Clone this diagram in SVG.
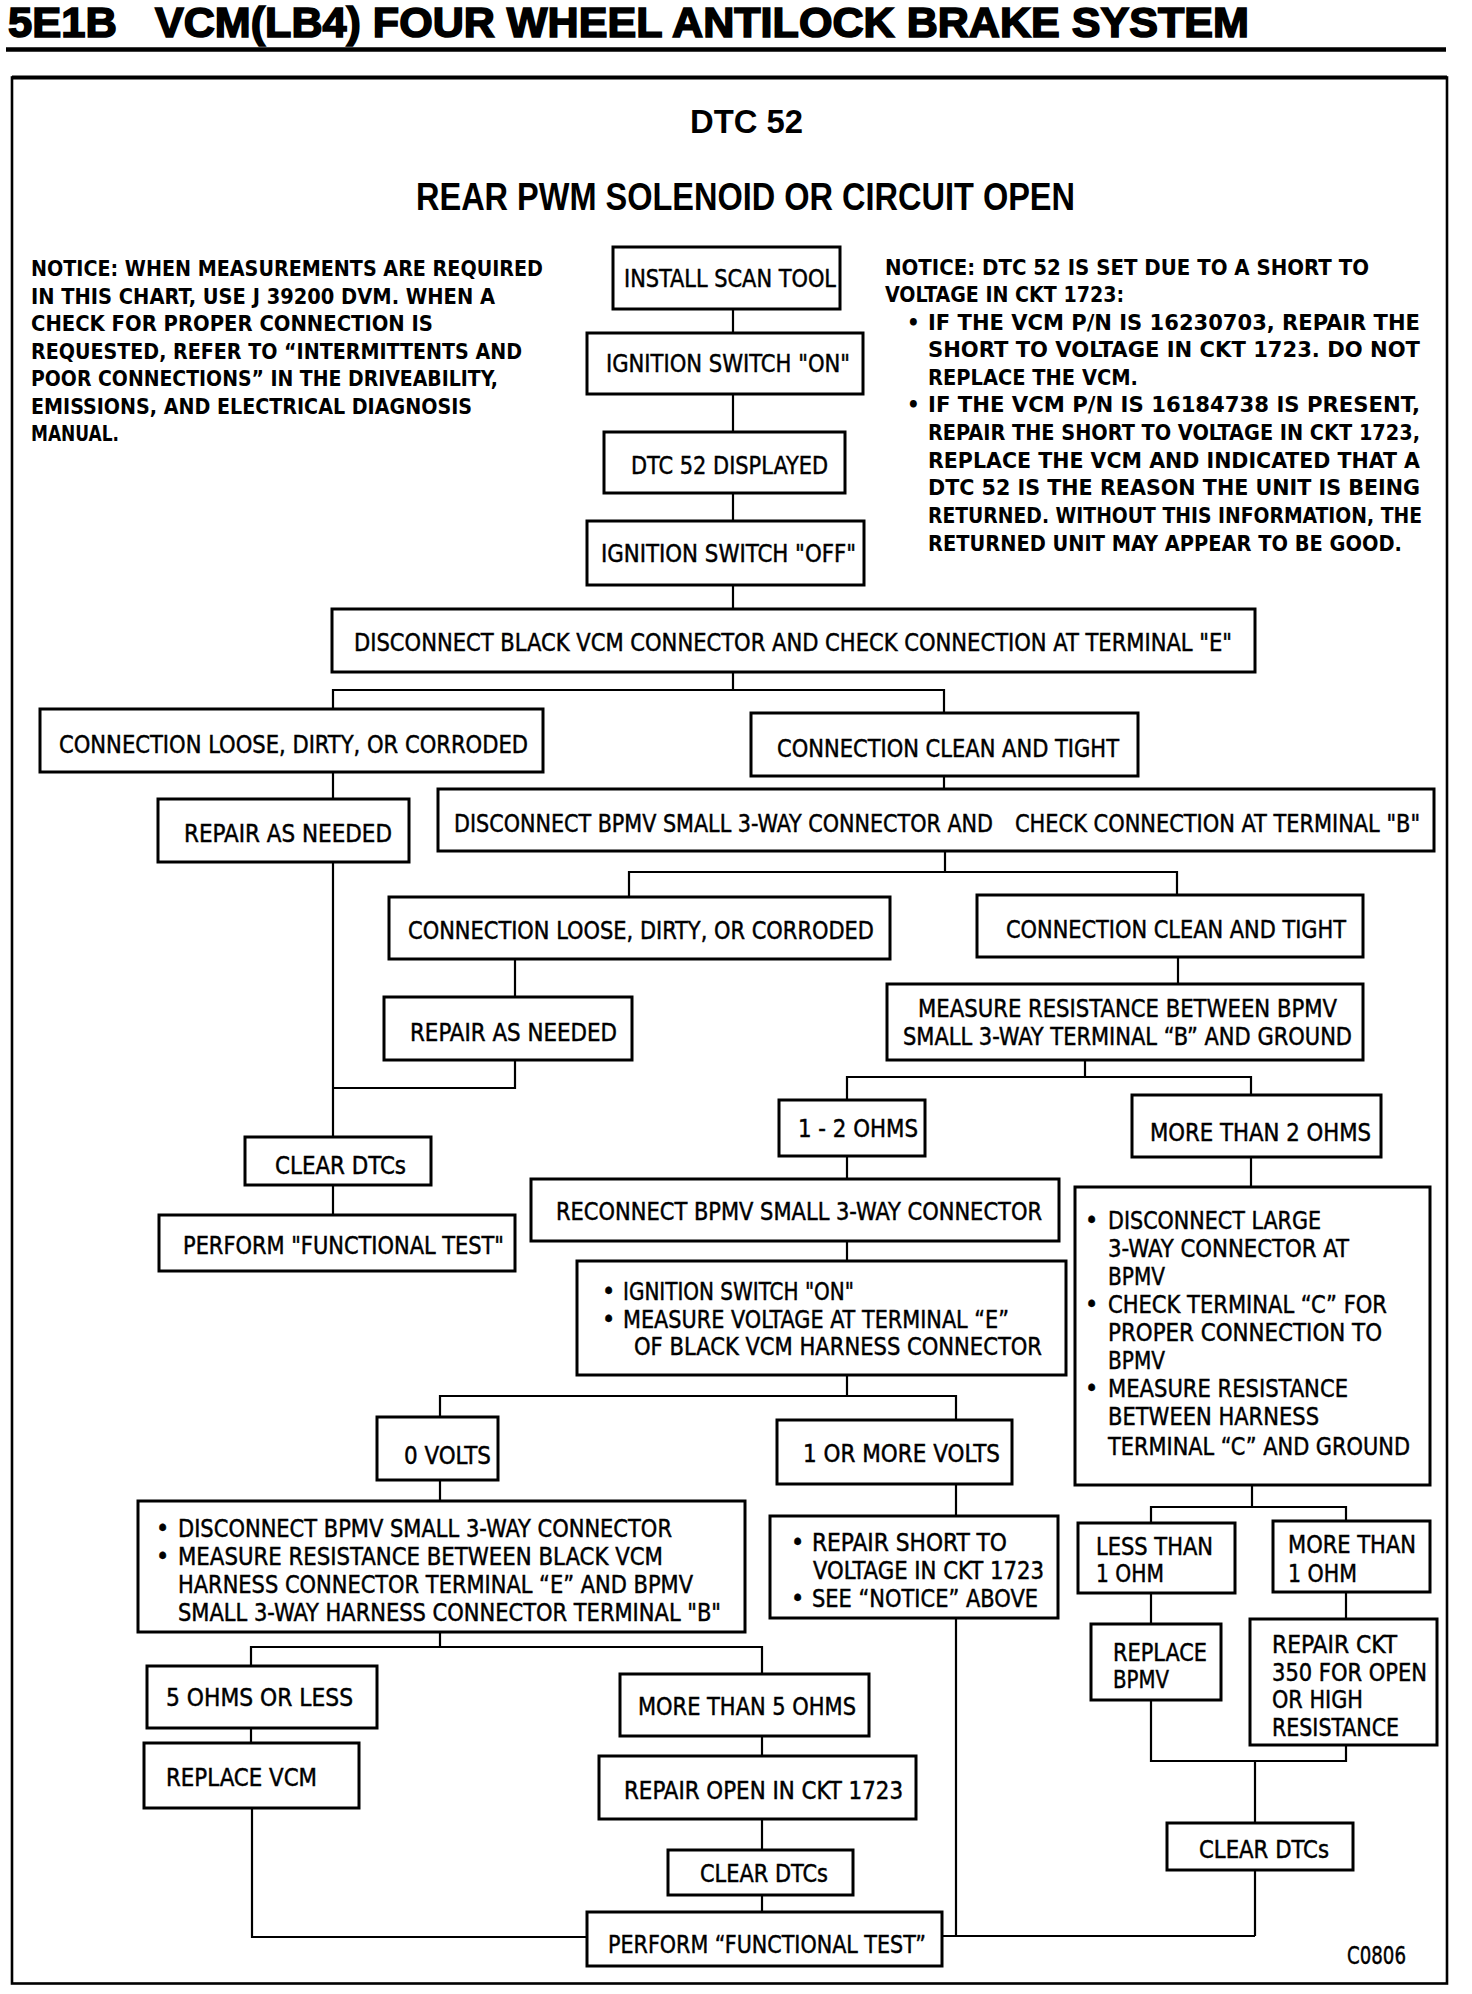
<svg xmlns="http://www.w3.org/2000/svg" width="1472" height="1994" viewBox="0 0 1472 1994">
<style>
.bx{fill:#fff;stroke:#000;stroke-width:3}
.cn{fill:none;stroke:#000;stroke-width:2.2}
.t{font-family:"Liberation Sans Narrow","DejaVu Sans Condensed","Liberation Sans",sans-serif;font-size:25px;fill:#000;stroke:#000;stroke-width:0.45}
.n{font-family:"Liberation Sans Narrow","DejaVu Sans Condensed","Liberation Sans",sans-serif;font-size:22px;font-weight:bold;fill:#000}
.h{font-family:"Liberation Sans","DejaVu Sans",sans-serif;font-weight:bold;fill:#000}
</style>
<rect x="0" y="0" width="1472" height="1994" fill="#fff"/>
<g id="title">
<text class="h" x="8" y="37" font-size="42" textLength="109" lengthAdjust="spacingAndGlyphs" stroke="#000" stroke-width="1.6">5E1B</text>
<text class="h" x="155" y="37" font-size="42" textLength="1094" lengthAdjust="spacingAndGlyphs" stroke="#000" stroke-width="1.6">VCM(LB4) FOUR WHEEL ANTILOCK BRAKE SYSTEM</text>
<line x1="6" y1="49.5" x2="1446" y2="49.5" stroke="#000" stroke-width="4.5"/>
<rect x="12" y="77.5" width="1435" height="1906" fill="none" stroke="#000" stroke-width="2.6"/>
<line x1="12" y1="77.5" x2="1447" y2="77.5" stroke="#000" stroke-width="4"/>
<text class="h" x="690" y="133" font-size="34" textLength="113" lengthAdjust="spacingAndGlyphs">DTC 52</text>
<text class="h" x="416" y="210" font-size="38" textLength="659" lengthAdjust="spacingAndGlyphs">REAR PWM SOLENOID OR CIRCUIT OPEN</text>
</g>
<g id="notice-left">
<text class="n" x="31" y="276" font-size="23" textLength="512" lengthAdjust="spacingAndGlyphs">NOTICE: WHEN MEASUREMENTS ARE REQUIRED</text>
<text class="n" x="31" y="303.5" font-size="23" textLength="464" lengthAdjust="spacingAndGlyphs">IN THIS CHART, USE J 39200 DVM. WHEN A</text>
<text class="n" x="31" y="331" font-size="23" textLength="402" lengthAdjust="spacingAndGlyphs">CHECK FOR PROPER CONNECTION IS</text>
<text class="n" x="31" y="358.5" font-size="23" textLength="491" lengthAdjust="spacingAndGlyphs">REQUESTED, REFER TO “INTERMITTENTS AND</text>
<text class="n" x="31" y="386" font-size="23" textLength="467" lengthAdjust="spacingAndGlyphs">POOR CONNECTIONS” IN THE DRIVEABILITY,</text>
<text class="n" x="31" y="413.5" font-size="23" textLength="441" lengthAdjust="spacingAndGlyphs">EMISSIONS, AND ELECTRICAL DIAGNOSIS</text>
<text class="n" x="31" y="441" font-size="23" textLength="88" lengthAdjust="spacingAndGlyphs">MANUAL.</text>
</g>
<g id="notice-right">
<text class="n" x="885" y="275" textLength="484" lengthAdjust="spacingAndGlyphs">NOTICE: DTC 52 IS SET DUE TO A SHORT TO</text>
<text class="n" x="885" y="302" textLength="239" lengthAdjust="spacingAndGlyphs">VOLTAGE IN CKT 1723:</text>
<text class="n" x="907" y="330">•</text>
<text class="n" x="928" y="330" textLength="492" lengthAdjust="spacingAndGlyphs">IF THE VCM P/N IS 16230703, REPAIR THE</text>
<text class="n" x="928" y="357" textLength="492" lengthAdjust="spacingAndGlyphs">SHORT TO VOLTAGE IN CKT 1723. DO NOT</text>
<text class="n" x="928" y="385" textLength="210" lengthAdjust="spacingAndGlyphs">REPLACE THE VCM.</text>
<text class="n" x="907" y="412">•</text>
<text class="n" x="928" y="412" textLength="492" lengthAdjust="spacingAndGlyphs">IF THE VCM P/N IS 16184738 IS PRESENT,</text>
<text class="n" x="928" y="440" font-size="21" textLength="492" lengthAdjust="spacingAndGlyphs">REPAIR THE SHORT TO VOLTAGE IN CKT 1723,</text>
<text class="n" x="928" y="468" textLength="492" lengthAdjust="spacingAndGlyphs">REPLACE THE VCM AND INDICATED THAT A</text>
<text class="n" x="928" y="495" textLength="492" lengthAdjust="spacingAndGlyphs">DTC 52 IS THE REASON THE UNIT IS BEING</text>
<text class="n" x="928" y="523" font-size="21" textLength="494" lengthAdjust="spacingAndGlyphs">RETURNED. WITHOUT THIS INFORMATION, THE</text>
<text class="n" x="928" y="551" textLength="474" lengthAdjust="spacingAndGlyphs">RETURNED UNIT MAY APPEAR TO BE GOOD.</text>
</g>
<g id="connectors">
<path class="cn" d="M733 309V333M733 394V432M733 493V521M733 585V609M733 672V690M333 709V690H944V713"/>
<path class="cn" d="M333 772V799M333 862V1137M944 776V789M945 851V872M629 897V872H1177V895"/>
<path class="cn" d="M515 959V997M515 1060V1088H333M1178 957V984M1085 1060V1077M847 1100V1077H1251V1095"/>
<path class="cn" d="M333 1185V1215M847 1156V1179M847 1241V1261M847 1375V1396M440 1417V1396H956V1420M1251 1157V1187"/>
<path class="cn" d="M440 1480V1501M956 1484V1516M956 1618V1936M942 1936H1255"/>
<path class="cn" d="M1252 1485V1507M1151 1523V1507H1346V1521M1151 1593V1624M1346 1592V1619M1151 1700V1761H1346V1745M1255 1761V1823M1255 1870V1936"/>
<path class="cn" d="M440 1632V1647M251 1666V1647H762V1674M251 1728V1743M762 1736V1756M762 1819V1850M762 1895V1912M252 1808V1937H587"/>
</g>
<g id="b1"><rect class="bx" x="613" y="247" width="227" height="62"/><text class="t" x="624" y="287" textLength="212" lengthAdjust="spacingAndGlyphs">INSTALL SCAN TOOL</text></g>
<g id="b2"><rect class="bx" x="587" y="333" width="276" height="61"/><text class="t" x="606" y="372" textLength="244" lengthAdjust="spacingAndGlyphs">IGNITION SWITCH "ON"</text></g>
<g id="b3"><rect class="bx" x="604" y="432" width="241" height="61"/><text class="t" x="631" y="474" textLength="197" lengthAdjust="spacingAndGlyphs">DTC 52 DISPLAYED</text></g>
<g id="b4"><rect class="bx" x="587" y="521" width="277" height="64"/><text class="t" x="601" y="562" textLength="255" lengthAdjust="spacingAndGlyphs">IGNITION SWITCH "OFF"</text></g>
<g id="b5"><rect class="bx" x="332" y="609" width="923" height="63"/><text class="t" x="354" y="651" textLength="878" lengthAdjust="spacingAndGlyphs">DISCONNECT BLACK VCM CONNECTOR AND CHECK CONNECTION AT TERMINAL "E"</text></g>
<g id="b6"><rect class="bx" x="40" y="709" width="503" height="63"/><text class="t" x="59" y="753" textLength="469" lengthAdjust="spacingAndGlyphs">CONNECTION LOOSE, DIRTY, OR CORRODED</text></g>
<g id="b7"><rect class="bx" x="751" y="713" width="387" height="63"/><text class="t" x="777" y="757" textLength="342" lengthAdjust="spacingAndGlyphs">CONNECTION CLEAN AND TIGHT</text></g>
<g id="b8"><rect class="bx" x="158" y="799" width="251" height="63"/><text class="t" x="184" y="842" textLength="208" lengthAdjust="spacingAndGlyphs">REPAIR AS NEEDED</text></g>
<g id="b9"><rect class="bx" x="438" y="789" width="996" height="62"/><text class="t" x="454" y="832" font-size="24" textLength="539" lengthAdjust="spacingAndGlyphs">DISCONNECT BPMV SMALL 3-WAY CONNECTOR AND</text><text class="t" x="1015" y="832" font-size="24" textLength="405" lengthAdjust="spacingAndGlyphs">CHECK CONNECTION AT TERMINAL "B"</text></g>
<g id="b10"><rect class="bx" x="389" y="897" width="501" height="62"/><text class="t" x="408" y="939" textLength="466" lengthAdjust="spacingAndGlyphs">CONNECTION LOOSE, DIRTY, OR CORRODED</text></g>
<g id="b11"><rect class="bx" x="977" y="895" width="386" height="62"/><text class="t" x="1006" y="938" textLength="340" lengthAdjust="spacingAndGlyphs">CONNECTION CLEAN AND TIGHT</text></g>
<g id="b12"><rect class="bx" x="384" y="997" width="248" height="63"/><text class="t" x="410" y="1041" textLength="207" lengthAdjust="spacingAndGlyphs">REPAIR AS NEEDED</text></g>
<g id="b13"><rect class="bx" x="887" y="984" width="476" height="76"/><text class="t" x="918" y="1017" textLength="419" lengthAdjust="spacingAndGlyphs">MEASURE RESISTANCE BETWEEN BPMV</text><text class="t" x="903" y="1045" textLength="449" lengthAdjust="spacingAndGlyphs">SMALL 3-WAY TERMINAL “B” AND GROUND</text></g>
<g id="b14"><rect class="bx" x="779" y="1100" width="146" height="56"/><text class="t" x="798" y="1137" textLength="120" lengthAdjust="spacingAndGlyphs">1 - 2 OHMS</text></g>
<g id="b15"><rect class="bx" x="1132" y="1095" width="249" height="62"/><text class="t" x="1150" y="1141" textLength="221" lengthAdjust="spacingAndGlyphs">MORE THAN 2 OHMS</text></g>
<g id="b16"><rect class="bx" x="245" y="1137" width="186" height="48"/><text class="t" x="275" y="1174" textLength="131" lengthAdjust="spacingAndGlyphs">CLEAR DTCs</text></g>
<g id="b17"><rect class="bx" x="159" y="1215" width="356" height="56"/><text class="t" x="183" y="1254" textLength="321" lengthAdjust="spacingAndGlyphs">PERFORM "FUNCTIONAL TEST"</text></g>
<g id="b18"><rect class="bx" x="531" y="1179" width="528" height="62"/><text class="t" x="556" y="1220" textLength="486" lengthAdjust="spacingAndGlyphs">RECONNECT BPMV SMALL 3-WAY CONNECTOR</text></g>
<g id="b19"><rect class="bx" x="577" y="1261" width="489" height="114"/>
<text class="t" x="602" y="1300">•</text><text class="t" x="623" y="1300" textLength="231" lengthAdjust="spacingAndGlyphs">IGNITION SWITCH "ON"</text>
<text class="t" x="602" y="1328">•</text><text class="t" x="623" y="1328" textLength="386" lengthAdjust="spacingAndGlyphs">MEASURE VOLTAGE AT TERMINAL “E”</text>
<text class="t" x="634" y="1355" textLength="408" lengthAdjust="spacingAndGlyphs">OF BLACK VCM HARNESS CONNECTOR</text></g>
<g id="b20"><rect class="bx" x="1075" y="1187" width="355" height="298"/>
<text class="t" x="1085" y="1229">•</text><text class="t" x="1108" y="1229" textLength="213" lengthAdjust="spacingAndGlyphs">DISCONNECT LARGE</text>
<text class="t" x="1108" y="1257" textLength="241" lengthAdjust="spacingAndGlyphs">3-WAY CONNECTOR AT</text>
<text class="t" x="1108" y="1285" textLength="57" lengthAdjust="spacingAndGlyphs">BPMV</text>
<text class="t" x="1085" y="1313">•</text><text class="t" x="1108" y="1313" textLength="279" lengthAdjust="spacingAndGlyphs">CHECK TERMINAL “C” FOR</text>
<text class="t" x="1108" y="1341" textLength="274" lengthAdjust="spacingAndGlyphs">PROPER CONNECTION TO</text>
<text class="t" x="1108" y="1369" textLength="57" lengthAdjust="spacingAndGlyphs">BPMV</text>
<text class="t" x="1085" y="1397">•</text><text class="t" x="1108" y="1397" textLength="240" lengthAdjust="spacingAndGlyphs">MEASURE RESISTANCE</text>
<text class="t" x="1108" y="1425" textLength="211" lengthAdjust="spacingAndGlyphs">BETWEEN HARNESS</text>
<text class="t" x="1108" y="1455" textLength="302" lengthAdjust="spacingAndGlyphs">TERMINAL “C” AND GROUND</text></g>
<g id="b21"><rect class="bx" x="377" y="1417" width="121" height="63"/><text class="t" x="404" y="1464" textLength="87" lengthAdjust="spacingAndGlyphs">0 VOLTS</text></g>
<g id="b22"><rect class="bx" x="777" y="1420" width="235" height="64"/><text class="t" x="803" y="1462" textLength="197" lengthAdjust="spacingAndGlyphs">1 OR MORE VOLTS</text></g>
<g id="b23"><rect class="bx" x="138" y="1501" width="607" height="131"/>
<text class="t" x="156" y="1537">•</text><text class="t" x="178" y="1537" textLength="494" lengthAdjust="spacingAndGlyphs">DISCONNECT BPMV SMALL 3-WAY CONNECTOR</text>
<text class="t" x="156" y="1565">•</text><text class="t" x="178" y="1565" textLength="485" lengthAdjust="spacingAndGlyphs">MEASURE RESISTANCE BETWEEN BLACK VCM</text>
<text class="t" x="178" y="1593" textLength="515" lengthAdjust="spacingAndGlyphs">HARNESS CONNECTOR TERMINAL “E” AND BPMV</text>
<text class="t" x="178" y="1621" textLength="543" lengthAdjust="spacingAndGlyphs">SMALL 3-WAY HARNESS CONNECTOR TERMINAL "B"</text></g>
<g id="b24"><rect class="bx" x="770" y="1516" width="288" height="102"/>
<text class="t" x="791" y="1551">•</text><text class="t" x="812" y="1551" textLength="195" lengthAdjust="spacingAndGlyphs">REPAIR SHORT TO</text>
<text class="t" x="813" y="1579" textLength="231" lengthAdjust="spacingAndGlyphs">VOLTAGE IN CKT 1723</text>
<text class="t" x="791" y="1607">•</text><text class="t" x="812" y="1607" textLength="226" lengthAdjust="spacingAndGlyphs">SEE “NOTICE” ABOVE</text></g>
<g id="b26"><rect class="bx" x="1078" y="1523" width="157" height="70"/><text class="t" x="1096" y="1555" textLength="117" lengthAdjust="spacingAndGlyphs">LESS THAN</text><text class="t" x="1096" y="1582" textLength="68" lengthAdjust="spacingAndGlyphs">1 OHM</text></g>
<g id="b27"><rect class="bx" x="1273" y="1521" width="157" height="71"/><text class="t" x="1288" y="1553" textLength="128" lengthAdjust="spacingAndGlyphs">MORE THAN</text><text class="t" x="1288" y="1582" textLength="69" lengthAdjust="spacingAndGlyphs">1 OHM</text></g>
<g id="b28"><rect class="bx" x="1091" y="1624" width="130" height="76"/><text class="t" x="1113" y="1661" textLength="94" lengthAdjust="spacingAndGlyphs">REPLACE</text><text class="t" x="1113" y="1688" textLength="56" lengthAdjust="spacingAndGlyphs">BPMV</text></g>
<g id="b29"><rect class="bx" x="1250" y="1619" width="187" height="126"/>
<text class="t" x="1272" y="1653" textLength="125" lengthAdjust="spacingAndGlyphs">REPAIR CKT</text>
<text class="t" x="1272" y="1681" textLength="155" lengthAdjust="spacingAndGlyphs">350 FOR OPEN</text>
<text class="t" x="1272" y="1708" textLength="91" lengthAdjust="spacingAndGlyphs">OR HIGH</text>
<text class="t" x="1272" y="1736" textLength="127" lengthAdjust="spacingAndGlyphs">RESISTANCE</text></g>
<g id="b30"><rect class="bx" x="1167" y="1823" width="186" height="47"/><text class="t" x="1199" y="1858" textLength="130" lengthAdjust="spacingAndGlyphs">CLEAR DTCs</text></g>
<g id="b31"><rect class="bx" x="147" y="1666" width="230" height="62"/><text class="t" x="166" y="1706" textLength="187" lengthAdjust="spacingAndGlyphs">5 OHMS OR LESS</text></g>
<g id="b32"><rect class="bx" x="620" y="1674" width="249" height="62"/><text class="t" x="638" y="1715" textLength="218" lengthAdjust="spacingAndGlyphs">MORE THAN 5 OHMS</text></g>
<g id="b33"><rect class="bx" x="144" y="1743" width="215" height="65"/><text class="t" x="166" y="1786" textLength="151" lengthAdjust="spacingAndGlyphs">REPLACE VCM</text></g>
<g id="b34"><rect class="bx" x="599" y="1756" width="317" height="63"/><text class="t" x="624" y="1799" textLength="279" lengthAdjust="spacingAndGlyphs">REPAIR OPEN IN CKT 1723</text></g>
<g id="b35"><rect class="bx" x="668" y="1850" width="185" height="45"/><text class="t" x="700" y="1882" textLength="128" lengthAdjust="spacingAndGlyphs">CLEAR DTCs</text></g>
<g id="b36"><rect class="bx" x="587" y="1912" width="355" height="54"/><text class="t" x="608" y="1953" textLength="318" lengthAdjust="spacingAndGlyphs">PERFORM “FUNCTIONAL TEST”</text></g>
<text class="t" x="1347" y="1964" textLength="59" lengthAdjust="spacingAndGlyphs">C0806</text>
</svg>
